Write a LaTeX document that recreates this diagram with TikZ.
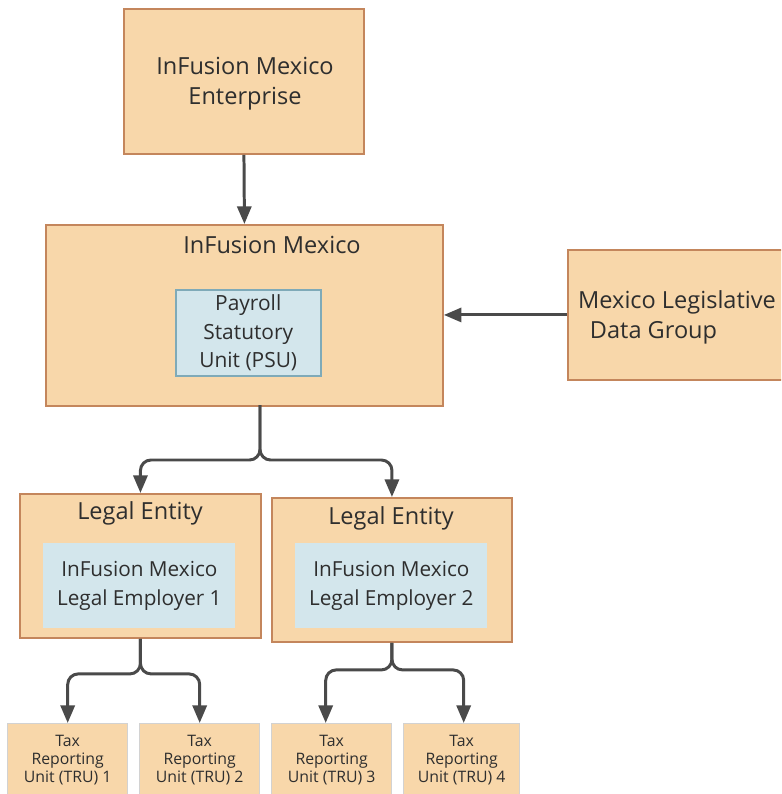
\documentclass[tikz,border=0pt]{standalone}
\usepackage{fontspec}
\setmainfont{Open Sans}
\usetikzlibrary{arrows.meta, positioning}
\definecolor{boxfill}{HTML}{F8D7AA}
\definecolor{boxline}{HTML}{C4865C}
\definecolor{bluefill}{HTML}{D3E6EC}
\definecolor{blueline}{HTML}{7FAAB8}
\definecolor{arrgray}{HTML}{4A4A4A}
\definecolor{truline}{HTML}{D2D2D2}
\definecolor{txt}{HTML}{2E2E2E}

\begin{document}
\begin{tikzpicture}[
  x=0.02cm, y=-0.02cm,
  box/.style={draw=boxline, line width=1.1pt, fill=boxfill, anchor=north west,
              inner sep=0pt, align=center, text=txt, font=\fontsize{13.4}{17}\selectfont},
  inbox/.style={fill=bluefill, anchor=north west, inner sep=0pt, align=center,
                text=txt, font=\fontsize{11.8}{17}\selectfont},
  trubox/.style={draw=truline, line width=0.8pt, fill=boxfill, anchor=north west,
                 minimum width=2.4cm, minimum height=1.46cm, inner sep=0pt,
                 align=center, text=txt, font=\fontsize{9}{10.2}\selectfont},
  title/.style={text=txt, inner sep=0pt, font=\fontsize{13.4}{17}\selectfont},
  arr/.style={-{Triangle[length=10pt, width=8pt]}, line width=1.7pt, arrgray,
              rounded corners=6pt}
]
\path[use as bounding box, clip] (0,0) rectangle (781,794);

% top levels
\node[box, minimum width=4.8cm, minimum height=2.9cm] (ent) at (123,8) {};
\node[title, align=center] (enttext) at (245,84) {InFusion Mexico\\Enterprise};
\node[box, minimum width=7.94cm, minimum height=3.62cm] (pu) at (45,224) {};
\node[title] (putitle) at (272,245) {InFusion Mexico};
\node[inbox, draw=blueline, line width=0.9pt, minimum width=2.9cm, minimum height=1.72cm,
      font=\fontsize{11.9}{16}\selectfont]
  (psu) at (175,289) {Payroll\\Statutory\\Unit (PSU)};
\node[box, minimum width=4.6cm, minimum height=2.6cm] (ldg) at (567,249) {};
\node[title, align=left] (ldgtext) at (677,317) {Mexico Legislative\\\hspace*{0.5em}Data Group};

% legal entities
\node[box, minimum width=4.82cm, minimum height=2.88cm] (le1) at (19,493) {};
\node[title] (le1title) at (140,513) {Legal Entity};
\node[inbox, minimum width=3.84cm, minimum height=1.7cm] (lem1) at (43,543)
  {InFusion Mexico\\Legal Employer 1};
\node[box, minimum width=4.8cm, minimum height=2.88cm] (le2) at (271,497) {};
\node[title] (le2title) at (391,518) {Legal Entity};
\node[inbox, minimum width=3.84cm, minimum height=1.7cm] (lem2) at (295,543)
  {InFusion Mexico\\Legal Employer 2};

% tax reporting units
\node[trubox] (tru1) at (7,723) {Tax\\Reporting\\Unit (TRU) 1};
\node[trubox] (tru2) at (139,723) {Tax\\Reporting\\Unit (TRU) 2};
\node[trubox] (tru3) at (271,723) {Tax\\Reporting\\Unit (TRU) 3};
\node[trubox, minimum width=2.32cm] (tru4) at (403,723) {Tax\\Reporting\\Unit (TRU) 4};

% connectors
\coordinate (puout) at (260,405);
\draw[arr] (ent.south) -- (pu.north);
\draw[arr] (ldg.west) -- (ldg.west -| pu.east);
\draw[arr] (puout) -- ++(0,55) -| (le1.north);
\draw[arr] (puout) -- ++(0,55) -| (le2.north);
\draw[arr] (le1.south) -- ++(0,35) -| (tru1.north);
\draw[arr] (le1.south) -- ++(0,35) -| (tru2.north);
\draw[arr] (le2.south) -- ++(0,27) -| ([xshift=-0.12cm]tru3.north);
\draw[arr] (le2.south) -- ++(0,27) -| ([xshift=0.04cm]tru4.north);
\end{tikzpicture}
\end{document}
